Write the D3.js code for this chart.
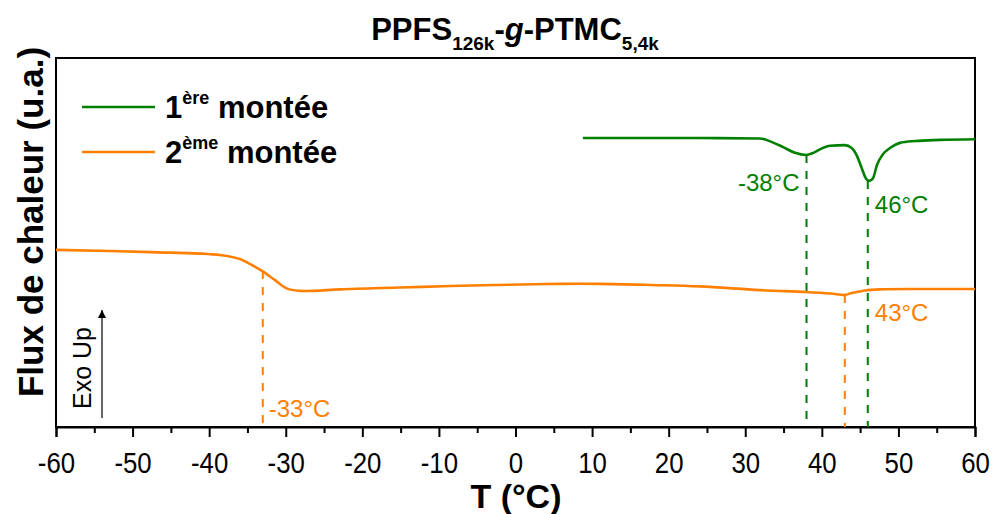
<!DOCTYPE html>
<html><head><meta charset="utf-8">
<script src="https://cdn.jsdelivr.net/npm/d3@7"></script>
<style>body{margin:0;background:#fff}svg{display:block}text{font-family:"Liberation Sans",Arial,sans-serif}</style>
</head><body>
<svg id="c" width="995" height="514"></svg>
<script>
// ---- data ----
const xTicks = [-60,-50,-40,-30,-20,-10,0,10,20,30,40,50,60];
const xMinorTicks = [-55,-45,-35,-25,-15,-5,5,15,25,35,45,55];
// 2ème montée (orange)
const run2T = [-60,-47.7,-38.6,-36.0,-34.7,-33.1,-31.4,-29.8,-28.1,-26.2,-22.9,-15.1,-8.5,0.6,5.8,11.0,17.6,24.1,31.9,37.9,41.1,43.0,43.9,45.6,47.6,52.8,60];
const run2V = [48.0,47.4,46.6,45.5,44.2,42.3,39.8,37.5,36.9,36.9,37.3,37.8,38.2,38.6,38.8,38.8,38.5,38.1,37.1,36.6,36.2,35.8,36.3,37.0,37.3,37.4,37.4];
// 1ère montée (green)
const run1T = [8.8,24.1,31.9,33.5,34.9,36.5,37.9,38.9,39.8,41.1,43.0,43.9,44.6,45.2,45.8,46.2,46.7,47.2,47.9,48.9,50.2,52.2,55.4,60];
const run1V = [78.3,78.3,78.2,77.2,75.9,74.3,73.7,74.3,75.3,76.2,76.4,75.6,73.4,70.2,67.2,66.7,67.5,71.0,73.7,75.6,77.0,77.5,77.8,78.0];
// transition markers
const markT = [-33,38,46,43];
const markTop = [42.3,73.7,66.7,35.8];
const markLabel = ["-33°C","-38°C","46°C","43°C"];
const markSeries = ["run2","run1","run1","run2"];
const seriesNames = ["1ère montée","2ème montée"];

// ---- layout ----
const L=56,R=975,T=58,B=427;
const colors = {run1:"#008000", run2:"#ff8000"};
const svg = d3.select("#c");
const x = d3.scaleLinear().domain([-60,60]).range([L,R]);
const y = d3.scaleLinear().domain([0,100]).range([B,T]);

// frame
svg.append("rect").attr("x",L).attr("y",T).attr("width",R-L).attr("height",B-T)
  .attr("fill","none").attr("stroke","#000").attr("stroke-width",2);

// x axis
const ax = svg.append("g").attr("transform",`translate(0,${B})`)
  .call(d3.axisBottom(x).tickValues(xTicks).tickSize(10).tickPadding(15).tickFormat(d=>String(d)));
ax.select(".domain").attr("stroke-width",2);
ax.selectAll(".tick line").attr("stroke-width",2);
ax.selectAll(".tick text").attr("font-size",30).attr("fill","#000")
  .attr("font-family","'Liberation Sans',Arial,sans-serif")
  .attr("transform","scale(0.86,1)");
const axm = svg.append("g").attr("transform",`translate(0,${B})`)
  .call(d3.axisBottom(x).tickValues(xMinorTicks).tickSize(6).tickFormat(""));
axm.select(".domain").remove();
axm.selectAll(".tick line").attr("stroke-width",2);

// curves
const line2 = d3.line().x(d=>x(d[0])).y(d=>y(d[1])).curve(d3.curveCatmullRom.alpha(0.5));
const line1 = d3.line().x(d=>x(d[0])).y(d=>y(d[1])).curve(d3.curveMonotoneX);
const d2 = run2T.map((t,i)=>[t,run2V[i]]);
const d1 = run1T.map((t,i)=>[t,run1V[i]]);

// dashed markers
markT.forEach((t,i)=>{
  svg.append("line").attr("x1",x(t)).attr("x2",x(t)).attr("y1",y(markTop[i])).attr("y2",y(0))
    .attr("stroke",colors[markSeries[i]]).attr("stroke-width",2).attr("stroke-dasharray","8,8");
});

svg.append("path").attr("d",line2(d2)).attr("fill","none").attr("stroke",colors.run2).attr("stroke-width",2.6);
svg.append("path").attr("d",line1(d1)).attr("fill","none").attr("stroke",colors.run1).attr("stroke-width",2.6);

// marker labels
const lab = [
  {dx:6, ty:417, anchor:"start"},
  {dx:-7, ty:191, anchor:"end"},
  {dx:7, ty:213, anchor:"start"},
  {dx:30, ty:321, anchor:"start"}
];
markT.forEach((t,i)=>{
  svg.append("text").attr("x",x(t)+lab[i].dx).attr("y",lab[i].ty).attr("text-anchor",lab[i].anchor)
    .attr("font-size",24).attr("fill",colors[markSeries[i]]).text(markLabel[i]);
});

// title
const title = svg.append("text").attr("x",515).attr("y",40).attr("text-anchor","middle")
  .attr("font-size",31).attr("font-weight","bold");
title.append("tspan").text("PPFS");
title.append("tspan").attr("font-size",19).attr("dy",10).text("126k");
title.append("tspan").attr("dy",-10).text("-");
title.append("tspan").attr("font-style","italic").text("g");
title.append("tspan").text("-PTMC");
title.append("tspan").attr("font-size",19).attr("dy",10).text("5,4k");

// legend
const leg = [{k:"run1",y:107,base:"1",sup:"ère"},{k:"run2",y:152,base:"2",sup:"ème"}];
leg.forEach(l=>{
  svg.append("line").attr("x1",82).attr("x2",155).attr("y1",l.y).attr("y2",l.y)
    .attr("stroke",colors[l.k]).attr("stroke-width",2.6);
  const t = svg.append("text").attr("x",165).attr("y",l.y+11).attr("font-size",31).attr("font-weight","bold");
  t.append("tspan").text(l.base);
  t.append("tspan").attr("font-size",18).attr("dy",-14).text(l.sup);
  t.append("tspan").attr("dy",14).text(" montée");
});

// axis titles
svg.append("text").attr("x",516).attr("y",508).attr("text-anchor","middle")
  .attr("font-size",34).attr("font-weight","bold").text("T (°C)");
svg.append("text").attr("transform","translate(43,222) rotate(-90)").attr("text-anchor","middle")
  .attr("font-size",35).attr("font-weight","bold").text("Flux de chaleur (u.a.)");

// Exo Up
svg.append("defs").append("marker").attr("id","ah").attr("viewBox","0 0 10 10").attr("refX",10).attr("refY",5)
  .attr("markerWidth",8).attr("markerHeight",14).attr("markerUnits","userSpaceOnUse").attr("orient","auto")
  .append("path").attr("d","M0,0 L10,5 L0,10 Z").attr("fill","#000");
svg.append("line").attr("x1",102).attr("x2",102).attr("y1",418).attr("y2",310)
  .attr("stroke","#000").attr("stroke-width",1.2).attr("marker-end","url(#ah)");
svg.append("text").attr("transform","translate(91,409) rotate(-90)").attr("font-size",25).text("Exo Up");
</script>
</body></html>
